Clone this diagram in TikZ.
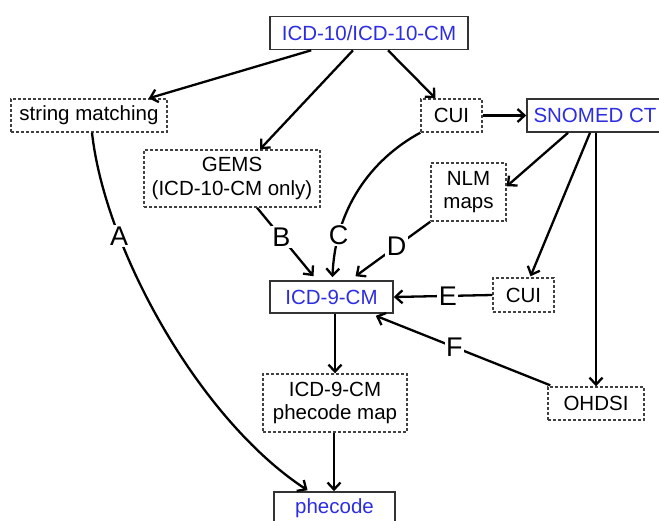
\documentclass[tikz,border=0pt]{standalone}
\usepackage{fontspec}
\setmainfont{Liberation Sans}
\usetikzlibrary{arrows.meta}
\definecolor{codeblue}{RGB}{45,45,225}
\tikzset{
  txt/.style={font=\fontsize{20.5}{23.5}\selectfont, align=center, inner sep=0pt},
  solidbox/.style={txt, draw=black!80, line width=1.6pt, text=codeblue, fill=white},
  dashbox/.style={txt, draw=black!75, line width=1.4pt, dash pattern=on 3pt off 2pt},
  conn/.style={line width=2.3pt, -{Straight Barb[length=7pt,width=13pt,line width=2.3pt]}},
  lab/.style={font=\fontsize{27}{30}\selectfont, fill=white, inner sep=1.5pt}
}
\begin{document}
\begin{tikzpicture}[x=1pt,y=-1pt]
\useasboundingbox (0,0) rectangle (659,520);
% nodes
\node[solidbox, minimum width=198pt, minimum height=33pt] (icd10) at (369,33) {ICD-10/ICD-10-CM};
\node[dashbox, minimum width=156pt, minimum height=33pt] (sm) at (89,115.5) {string matching};
\node[dashbox, minimum width=176pt, minimum height=57pt] (gems) at (232,178.5) {GEMS\\(ICD-10-CM only)};
\node[dashbox, minimum width=61pt, minimum height=33pt] (cui1) at (451.5,115.5) {CUI};
\node[solidbox, minimum width=136pt, minimum height=33pt] (snomed) at (595,115.5) {SNOMED CT};
\node[dashbox, minimum width=75pt, minimum height=58pt] (nlm) at (468.5,192) {NLM\\maps};
\node[solidbox, minimum width=123pt, minimum height=32pt] (icd9) at (331.5,297) {ICD-9-CM};
\node[dashbox, minimum width=61pt, minimum height=34pt] (cui2) at (523.5,295) {CUI};
\node[dashbox, minimum width=144pt, minimum height=58pt] (pmap) at (335,403) {ICD-9-CM\\phecode map};
\node[dashbox, minimum width=96pt, minimum height=33pt] (ohdsi) at (596,403.5) {OHDSI};
\node[solidbox, minimum width=121pt, minimum height=33pt] (phecode) at (334.5,508.5) {phecode};
% connectors from ICD-10
\draw[conn] ([xshift=42pt]icd10.south west) -- ([xshift=-19pt]sm.north east);
\draw[conn] ([xshift=-16pt]icd10.south) -- ([xshift=28pt]gems.north);
\draw[conn] ([xshift=19pt]icd10.south) -- ([xshift=-16pt]cui1.north);
\draw[conn] (cui1.east) -- (snomed.west);
% from SNOMED
\draw[conn] ([xshift=-27pt]snomed.south) -- ([yshift=-24pt]nlm.north east);
\draw[conn] ([xshift=-5pt]snomed.south) -- ([xshift=7pt,yshift=1pt]cui2.north);
\draw[conn] (snomed.south -| ohdsi.north) -- (ohdsi.north);
% A
\draw[conn] ([xshift=3pt]sm.south) .. controls (105,250) and (200,420) .. ([xshift=-27pt,yshift=1pt]phecode.north)
  node[lab, pos=0.27] {A};
% B
\draw[conn] ([xshift=25pt]gems.south) -- node[lab, pos=0.43] {B} ([xshift=-18pt,yshift=4pt]icd9.north);
% C
\draw[conn] (cui1.south west) .. controls (370,160) and (335,210) .. ([xshift=1pt,yshift=3pt]icd9.north)
  node[lab, pos=0.78] {C};
% D
\draw[conn] (nlm.south west) -- node[lab, pos=0.45] {D} ([xshift=24pt,yshift=4pt]icd9.north);
% E
\draw[conn] (cui2.west) -- node[lab, pos=0.45] {E} (icd9.east);
% F
\draw[conn] ([xshift=3pt,yshift=1pt]ohdsi.north west) -- node[lab, pos=0.55] {F} ([xshift=-18pt,yshift=-2pt]icd9.south east);
% down chain
\draw[conn] (icd9.south -| pmap.north) -- (pmap.north);
\draw[conn] ([xshift=-1pt]pmap.south) -- ([xshift=-1pt]pmap.south |- phecode.north);
\end{tikzpicture}
\end{document}
